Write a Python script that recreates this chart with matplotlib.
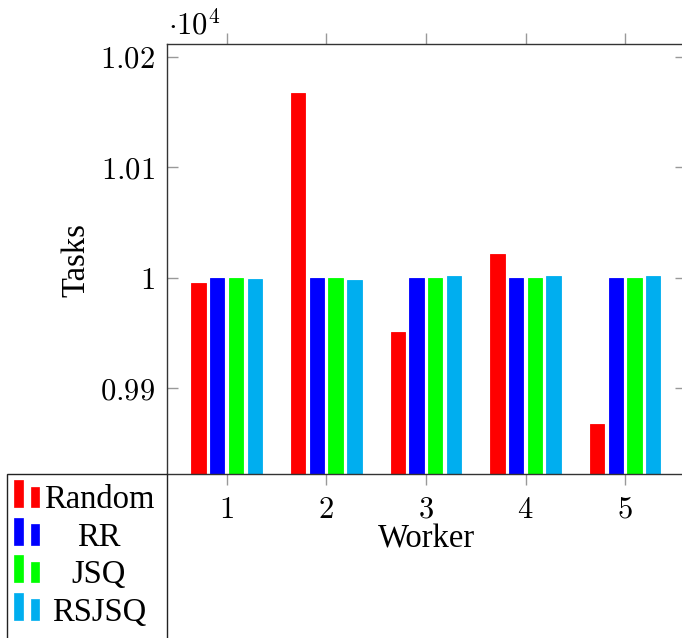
import matplotlib

matplotlib.use("Agg")

from matplotlib import pyplot as plt
from matplotlib.patches import Rectangle
import numpy as np

plt.rcParams["font.family"] = ["Liberation Serif", "DejaVu Serif"]
plt.rcParams["mathtext.fontset"] = "cm"

workers = [1, 2, 3, 4, 5]
series_names = ["Random", "RR", "JSQ", "RSJSQ"]
series_colors = ["#FF0000", "#0000FF", "#00FF00", "#00AEEF"]
random_tasks = [9995, 10167, 9951, 10022, 9868]
rr_tasks = [10000, 10000, 10000, 10000, 10000]
jsq_tasks = [10000, 10000, 10000, 10000, 10000]
rsjsq_tasks = [9999, 9998, 10002, 10002, 10002]
series_values = [random_tasks, rr_tasks, jsq_tasks, rsjsq_tasks]

ytick_values = [9900, 10000, 10100, 10200]
ytick_labels = ["0.99", "1", "1.01", "1.02"]

W, H = 682, 638
fig = plt.figure(figsize=(W / 100, H / 100), dpi=100)


def fx(px):
    return px / W


def fy(py):
    return 1 - py / H


ax = fig.add_axes([fx(166.6), fy(474), fx(686) - fx(166.6), fy(43.5) - fy(474)])

x = np.array(workers, dtype=float)
step = 0.188
width = 0.144
for i, (vals, color, name) in enumerate(zip(series_values, series_colors, series_names)):
    offset = (i - 1.5) * step
    ax.bar(x + offset, vals, width=width, color=color, edgecolor=color,
           linewidth=0.6, label=name, zorder=2)

ax.set_xlim(0.398, 5.61)
ax.set_ylim(9822.5, 10212)
ax.set_xticks(workers)
ax.set_xticklabels([f"${w}$" for w in workers], fontsize=22)
ax.set_yticks(ytick_values)
ax.set_yticklabels([f"${t}$" for t in ytick_labels], fontsize=22)

ax.tick_params(axis="y", direction="in", length=8.2, width=1.0, color="#999999",
               left=True, right=True, pad=8.5)
ax.tick_params(axis="x", direction="out", length=8, width=1.0, color="#999999",
               bottom=True, top=True, pad=7.5)
for sp in ax.spines.values():
    sp.set_color("#333333")
    sp.set_linewidth(1.0)

ax.set_xlabel("Worker", fontsize=23.5, va="center")
ax.xaxis.set_label_coords(0.4994, -0.151)
ax.set_ylabel("Tasks", fontsize=23.5, va="center")
ax.yaxis.set_label_coords(-0.175, 0.497)

fig.text(fx(168), fy(34.6), r"$\cdot 10^{4}$", fontsize=22, ha="left", va="baseline")

# legend drawn by hand, pgfplots style
box_left, box_top, box_right = 6.5, 474, 166.6
fig.add_artist(Rectangle((fx(box_left), fy(660)), fx(box_right) - fx(box_left),
                         fy(box_top) - fy(660), transform=fig.transFigure,
                         facecolor="white", edgecolor="#222222", linewidth=1.0,
                         zorder=5))
row_h = 37.6
for i, (name, color) in enumerate(zip(series_names, series_colors)):
    base = 507 + i * row_h
    fig.add_artist(Rectangle((fx(14.4), fy(base)), fx(8.8), fy(base - 27) - fy(base),
                             transform=fig.transFigure, facecolor=color,
                             edgecolor=color, linewidth=0.5, zorder=6))
    fig.add_artist(Rectangle((fx(30.6), fy(base)), fx(8.8), fy(base - 20.5) - fy(base),
                             transform=fig.transFigure, facecolor=color,
                             edgecolor=color, linewidth=0.5, zorder=6))
    fig.text(fx(99), fy(base + 1), name, fontsize=23.5, ha="center", va="baseline",
             zorder=7)

fig.savefig("out.png", dpi=100)
